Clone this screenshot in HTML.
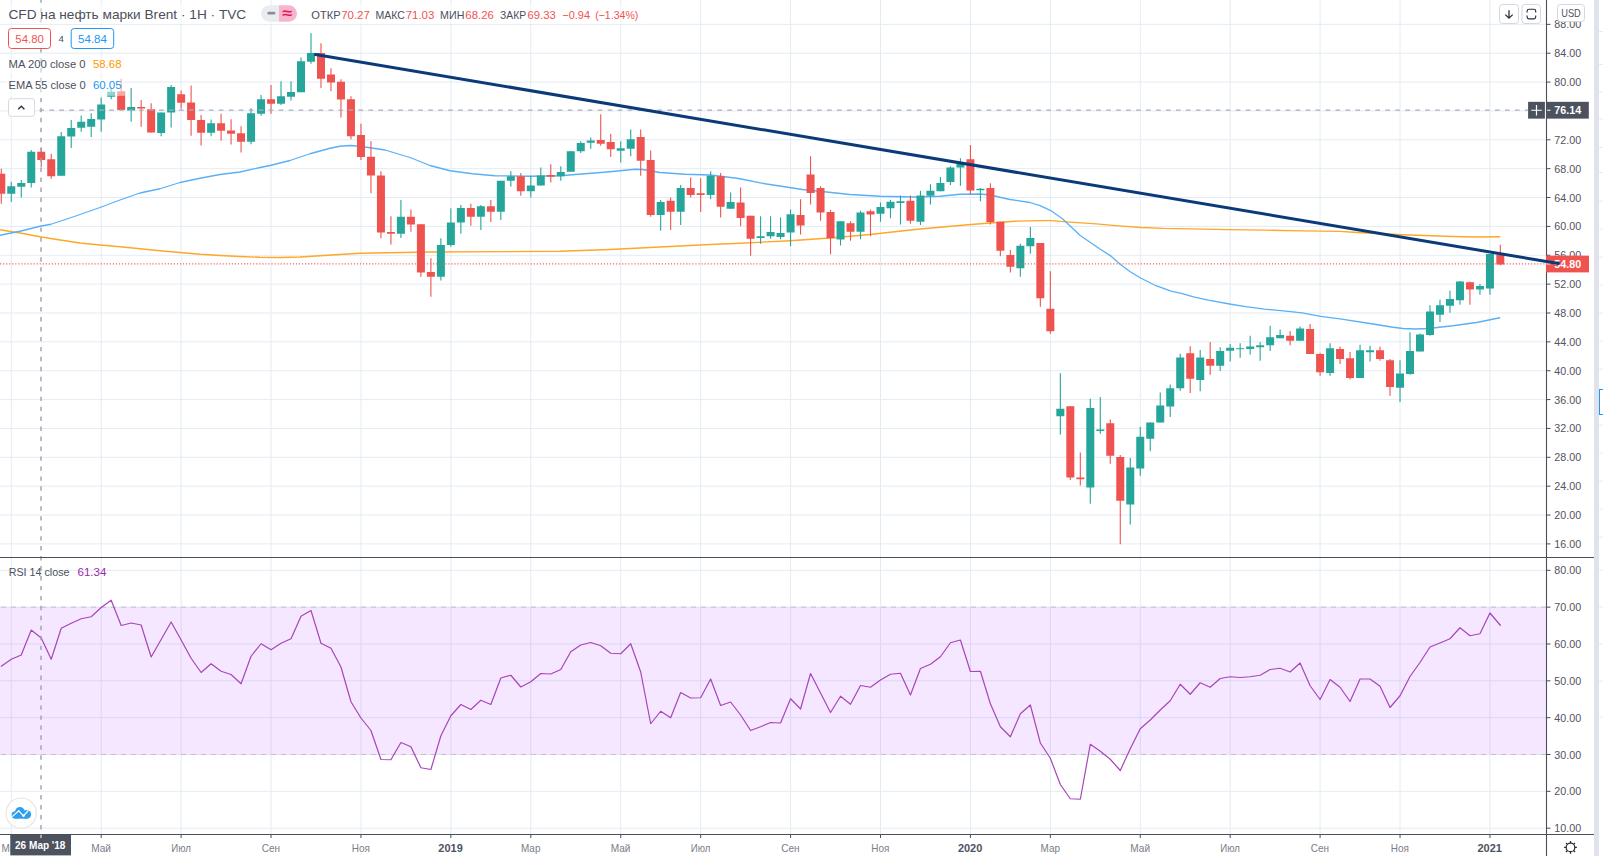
<!DOCTYPE html>
<html lang="ru"><head><meta charset="utf-8"><title>CFD на нефть марки Brent</title>
<style>html,body{margin:0;padding:0;background:#fff}svg{display:block}</style></head>
<body>
<svg width="1603" height="856" viewBox="0 0 1603 856" font-family='"Liberation Sans", "DejaVu Sans", sans-serif'>
<rect width="1603" height="856" fill="#fff"/>
<path d="M11.27 0V834.5M101.19 0V834.5M181.12 0V834.5M271.04 0V834.5M360.96 0V834.5M450.87 0V834.5M530.80 0V834.5M620.72 0V834.5M700.65 0V834.5M790.57 0V834.5M880.49 0V834.5M970.41 0V834.5M1050.34 0V834.5M1140.25 0V834.5M1230.17 0V834.5M1320.09 0V834.5M1400.02 0V834.5M1489.94 0V834.5M0 543.90H1546.5M0 515.04H1546.5M0 486.17H1546.5M0 457.31H1546.5M0 428.45H1546.5M0 399.58H1546.5M0 370.72H1546.5M0 341.85H1546.5M0 312.99H1546.5M0 284.13H1546.5M0 255.26H1546.5M0 226.40H1546.5M0 197.53H1546.5M0 168.67H1546.5M0 139.81H1546.5M0 110.94H1546.5M0 82.08H1546.5M0 53.21H1546.5M0 24.35H1546.5M0 828.18H1546.5M0 791.34H1546.5M0 754.50H1546.5M0 717.66H1546.5M0 680.82H1546.5M0 643.98H1546.5M0 607.14H1546.5M0 570.30H1546.5" stroke="#e4ecf3" stroke-width="1" fill="none"/>
<rect x="0" y="607.14" width="1546.5" height="147.36" fill="#9915ff" fill-opacity="0.1"/>
<path d="M0 607.14H1546.5M0 754.50H1546.5" stroke="#c2bece" stroke-width="1" stroke-dasharray="5 5" stroke-dashoffset="-1" fill="none"/>
<path d="M0.00 229.80L1.25 230.00L20.00 233.00L40.00 236.75L60.00 240.00L80.00 243.00L100.00 245.00L120.00 246.75L140.00 248.75L160.00 250.75L180.00 252.50L200.00 254.25L220.00 255.50L240.00 256.50L260.00 257.25L280.00 257.50L300.00 257.00L320.00 255.75L340.00 254.50L360.00 253.25L430.00 252.00L560.00 251.25L610.00 249.50L660.00 247.00L710.00 244.50L740.00 243.25L790.00 240.75L830.00 238.00L870.00 234.50L915.00 229.50L965.00 225.00L990.00 223.00L1015.00 221.25L1040.00 220.59L1051.23 220.59L1066.20 221.90L1096.15 223.96L1118.61 225.83L1141.07 227.51L1163.53 228.45L1189.73 228.82L1227.16 229.57L1264.59 230.13L1302.03 230.88L1340.02 231.44L1353.00 232.25L1403.00 234.75L1453.00 236.50L1478.00 237.00L1499.75 236.75" stroke="#ffa726" stroke-width="1.3" fill="none" stroke-linejoin="round" stroke-linecap="round"/>
<path d="M0.00 235.30L1.25 235.00L20.00 231.25L40.00 226.25L51.00 224.25L75.00 216.25L100.00 207.50L120.00 200.00L140.00 193.00L160.00 188.75L180.00 182.50L200.00 178.25L220.00 174.50L240.00 172.00L260.00 167.50L270.00 165.50L290.00 160.50L310.00 153.75L330.00 148.25L340.00 146.25L350.00 145.50L360.00 146.25L385.00 150.00L410.00 157.50L430.00 165.50L450.00 170.75L472.50 173.75L495.00 175.75L530.00 176.25L560.00 175.75L585.00 173.75L610.00 171.75L635.00 169.25L642.50 169.50L660.00 172.50L685.00 174.25L710.00 175.00L735.00 178.00L740.00 178.75L765.00 183.75L802.50 189.50L815.00 190.75L850.00 194.50L880.00 196.25L915.00 197.00L940.00 196.25L960.00 194.25L980.00 194.00L990.00 195.00L1010.00 199.50L1030.00 202.50L1040.00 205.61L1050.29 210.29L1062.46 218.72L1080.24 235.56L1099.89 249.04L1111.12 256.15L1120.48 264.57L1129.84 271.50L1141.07 278.23L1156.04 285.72L1171.01 291.15L1182.24 293.58L1193.47 296.76L1208.44 300.13L1230.90 304.25L1245.88 306.68L1264.59 309.11L1283.31 310.80L1302.03 312.86L1320.74 316.41L1340.02 318.85L1373.00 324.00L1393.00 327.25L1403.00 328.50L1415.50 329.00L1428.00 328.50L1453.00 325.75L1478.00 322.25L1499.75 317.75" stroke="#5ab0f7" stroke-width="1.3" fill="none" stroke-linejoin="round" stroke-linecap="round"/>
<path d="M11.27 181.75V202.00M21.26 180.00V197.50M31.25 150.00V187.50M61.23 132.00V175.75M71.22 120.00V148.00M81.21 115.50V131.75M91.20 113.25V137.00M101.19 97.50V131.75M111.18 87.50V99.25M131.16 88.00V121.75M161.14 112.50V136.25M171.13 85.00V127.50M211.09 119.50V136.25M251.05 108.25V144.25M261.05 95.00V115.75M281.03 81.25V105.00M291.02 81.25V100.50M301.01 57.50V92.25M311.00 33.25V63.75M400.92 200.00V238.00M440.88 238.25V280.50M450.87 208.25V246.75M460.87 205.00V233.75M480.85 205.00V230.00M500.83 180.75V220.00M510.82 171.25V186.75M530.80 175.75V197.50M540.79 167.50V185.50M560.78 166.25V180.75M570.77 151.25V171.75M580.76 141.25V153.00M590.75 137.50V148.75M620.72 141.25V162.50M630.71 129.50V156.25M660.69 200.00V230.75M680.67 185.00V225.00M710.64 171.25V199.25M730.62 192.50V208.75M760.60 216.25V243.75M770.59 216.25V238.75M780.58 217.50V239.25M790.57 209.50V246.25M840.52 221.25V245.50M860.51 210.75V239.25M880.49 202.50V221.75M890.48 200.00V218.25M900.47 195.50V224.50M920.45 190.75V225.00M930.44 184.25V204.50M940.43 177.00V191.25M950.42 166.25V185.00M960.42 158.25V185.75M980.40 188.00V201.25M1020.36 243.75V276.75M1030.35 227.00V253.75M1060.33 373.25V434.50M1090.30 398.75V503.75M1100.29 397.00V433.75M1130.26 458.00V524.50M1140.25 426.75V475.75M1150.24 422.50V451.25M1160.24 392.50V422.50M1170.23 384.50V417.00M1180.22 353.75V390.75M1200.20 350.00V391.25M1220.18 347.25V371.00M1230.17 344.00V361.50M1240.16 343.25V357.75M1250.15 335.75V354.50M1260.15 342.00V360.75M1270.14 325.75V351.00M1280.13 329.50V338.25M1300.11 326.50V340.75M1330.08 343.25V375.75M1360.06 344.75V378.00M1370.05 345.75V361.50M1400.02 360.25V402.00M1410.01 332.25V374.75M1420.00 333.50V351.50M1429.99 305.25V335.75M1439.98 299.75V322.00M1449.97 290.75V312.75M1459.97 281.00V304.75M1479.95 284.00V294.75M1489.94 254.00V294.75" stroke="#26a69a" stroke-width="1.1" fill="none"/>
<path d="M1.28 168.75V203.75M41.24 147.50V167.00M51.23 153.75V178.75M121.17 78.75V110.00M141.15 100.00V126.75M151.15 103.25V132.50M181.12 90.50V108.75M191.11 85.50V135.75M201.10 115.00V145.50M221.08 113.75V140.75M231.07 119.25V144.50M241.06 126.25V152.50M271.04 85.00V113.75M320.99 43.25V88.00M330.98 68.25V91.25M340.97 79.25V117.50M350.96 96.25V139.25M360.96 123.75V160.00M370.95 141.25V193.25M380.94 171.25V238.25M390.93 216.25V244.50M410.91 209.50V231.75M420.90 224.25V276.75M430.89 258.25V296.75M470.86 203.75V225.75M490.84 200.00V222.00M520.81 173.00V195.75M550.78 164.25V182.50M600.74 114.25V145.75M610.73 133.75V157.00M640.70 129.50V175.75M650.69 150.50V216.75M670.68 197.50V230.00M690.66 177.50V197.50M700.65 178.25V212.00M720.63 173.00V217.50M740.61 187.50V226.25M750.60 215.75V255.75M800.56 199.25V234.50M810.55 156.25V204.50M820.54 186.25V220.75M830.53 210.00V254.25M850.51 221.25V240.75M870.50 209.50V236.25M910.46 195.50V223.75M970.41 145.00V194.25M990.39 183.25V224.50M1000.38 221.75V256.25M1010.37 250.00V272.50M1040.34 243.00V306.75M1050.34 271.25V333.75M1070.32 406.25V480.00M1080.31 452.50V485.50M1110.28 419.50V463.75M1120.27 455.00V544.25M1190.21 346.25V393.00M1210.19 342.00V374.75M1290.12 331.00V345.25M1310.10 324.00V354.00M1320.09 352.75V375.75M1340.07 346.50V364.00M1350.06 352.00V379.50M1380.04 346.50V360.75M1390.03 359.00V395.75M1469.96 281.50V304.75M1500.30 244.75V265.25" stroke="#ef5350" stroke-width="1.1" fill="none"/>
<path d="M7.27 186.25h8V193.75h-8zM17.26 183.00h8V186.75h-8zM27.25 151.75h8V183.00h-8zM57.23 136.25h8V175.75h-8zM67.22 128.00h8V136.50h-8zM77.21 121.75h8V127.75h-8zM87.20 119.00h8V126.75h-8zM97.19 104.50h8V119.50h-8zM107.18 91.75h8V96.75h-8zM127.16 107.00h8V110.50h-8zM157.14 112.50h8V133.00h-8zM167.13 87.00h8V112.50h-8zM207.09 123.25h8V132.75h-8zM247.05 113.25h8V141.75h-8zM257.05 99.25h8V113.75h-8zM277.03 96.25h8V103.75h-8zM287.02 92.00h8V96.75h-8zM297.01 61.25h8V92.25h-8zM307.00 53.00h8V61.75h-8zM396.92 216.75h8V233.75h-8zM436.88 245.00h8V276.75h-8zM446.87 222.50h8V245.00h-8zM456.87 208.00h8V222.50h-8zM476.85 206.25h8V216.75h-8zM496.83 180.75h8V211.75h-8zM506.82 176.25h8V180.75h-8zM526.80 185.50h8V191.25h-8zM536.79 175.50h8V185.50h-8zM556.78 172.00h8V176.25h-8zM566.77 151.25h8V171.75h-8zM576.76 143.00h8V151.25h-8zM586.75 140.50h8V142.75h-8zM616.72 148.25h8V150.75h-8zM626.71 139.25h8V148.75h-8zM656.69 202.00h8V215.00h-8zM676.67 188.00h8V211.75h-8zM706.64 175.75h8V195.00h-8zM726.62 202.00h8V208.75h-8zM756.60 236.25h8V238.00h-8zM766.59 232.00h8V236.25h-8zM776.58 233.00h8V237.00h-8zM786.57 214.25h8V232.50h-8zM836.52 221.25h8V239.50h-8zM856.51 212.50h8V231.75h-8zM876.49 207.00h8V213.75h-8zM886.48 201.75h8V208.25h-8zM896.47 201.25h8V203.00h-8zM916.45 195.50h8V221.75h-8zM926.44 190.75h8V195.75h-8zM936.43 183.00h8V191.25h-8zM946.42 167.50h8V182.00h-8zM956.42 163.75h8V167.50h-8zM976.40 188.75h8V190.25h-8zM1016.36 245.75h8V268.25h-8zM1026.35 238.00h8V246.25h-8zM1056.33 408.75h8V416.25h-8zM1086.30 408.00h8V487.50h-8zM1096.29 429.50h8V431.00h-8zM1126.26 467.50h8V504.50h-8zM1136.25 436.75h8V468.50h-8zM1146.24 422.50h8V438.75h-8zM1156.24 405.50h8V422.50h-8zM1166.23 388.25h8V406.50h-8zM1176.22 357.50h8V388.25h-8zM1196.20 357.50h8V380.00h-8zM1216.18 351.00h8V365.75h-8zM1226.17 347.75h8V350.75h-8zM1236.16 348.15h8V349.35h-8zM1246.15 346.50h8V349.00h-8zM1256.15 345.25h8V347.25h-8zM1266.14 337.25h8V345.25h-8zM1276.13 335.00h8V338.25h-8zM1296.11 328.50h8V340.75h-8zM1326.08 348.25h8V373.00h-8zM1356.06 350.25h8V378.00h-8zM1366.05 350.25h8V352.25h-8zM1396.02 373.50h8V387.75h-8zM1406.01 351.00h8V374.00h-8zM1416.00 334.50h8V351.50h-8zM1425.99 311.50h8V335.00h-8zM1435.98 305.25h8V314.75h-8zM1445.97 299.00h8V305.75h-8zM1455.97 281.50h8V300.25h-8zM1475.95 286.00h8V289.50h-8zM1485.94 254.00h8V288.50h-8z" fill="#26a69a"/>
<path d="M-2.72 173.75h8V193.75h-8zM37.24 151.75h8V160.00h-8zM47.23 159.25h8V176.25h-8zM117.17 91.25h8V110.00h-8zM137.15 107.00h8V108.50h-8zM147.15 109.25h8V132.50h-8zM177.12 94.25h8V102.75h-8zM187.11 102.50h8V120.00h-8zM197.10 120.00h8V132.75h-8zM217.08 123.25h8V130.75h-8zM227.07 130.50h8V133.75h-8zM237.06 133.25h8V141.75h-8zM267.04 99.25h8V103.75h-8zM316.99 53.00h8V78.75h-8zM326.98 74.50h8V82.50h-8zM336.97 81.75h8V99.50h-8zM346.96 99.25h8V136.25h-8zM356.96 135.00h8V157.00h-8zM366.95 156.75h8V175.50h-8zM376.94 175.50h8V232.50h-8zM386.93 232.00h8V233.75h-8zM406.91 216.75h8V224.50h-8zM416.90 224.25h8V272.50h-8zM426.89 272.00h8V276.75h-8zM466.86 208.00h8V216.75h-8zM486.84 206.25h8V211.75h-8zM516.81 176.25h8V191.25h-8zM546.78 175.00h8V176.75h-8zM596.74 140.00h8V143.75h-8zM606.73 142.00h8V149.25h-8zM636.70 137.00h8V160.75h-8zM646.69 160.00h8V215.00h-8zM666.68 200.75h8V211.75h-8zM686.66 188.00h8V195.00h-8zM696.65 193.25h8V195.00h-8zM716.63 176.25h8V206.75h-8zM736.61 202.50h8V218.00h-8zM746.60 215.75h8V238.75h-8zM796.56 215.00h8V225.50h-8zM806.55 174.50h8V193.00h-8zM816.54 188.00h8V212.50h-8zM826.53 212.00h8V238.25h-8zM846.51 223.25h8V231.75h-8zM866.50 211.25h8V214.50h-8zM906.46 200.75h8V220.75h-8zM966.41 159.25h8V190.50h-8zM986.39 188.00h8V222.00h-8zM996.38 221.75h8V250.75h-8zM1006.37 255.00h8V266.75h-8zM1036.34 243.00h8V298.25h-8zM1046.34 308.75h8V331.25h-8zM1066.32 406.25h8V477.50h-8zM1076.31 477.50h8V479.25h-8zM1106.28 423.25h8V455.75h-8zM1116.27 457.00h8V500.75h-8zM1186.21 353.25h8V378.75h-8zM1206.19 359.00h8V365.75h-8zM1286.12 335.75h8V340.75h-8zM1306.10 329.00h8V354.00h-8zM1316.09 354.00h8V372.25h-8zM1336.07 349.00h8V359.00h-8zM1346.06 358.25h8V378.00h-8zM1376.04 350.25h8V359.00h-8zM1386.03 360.25h8V387.00h-8zM1465.96 282.25h8V289.50h-8zM1496.30 254.75h8V264.50h-8z" fill="#ef5350"/>
<path d="M0 263.92H1546.5" stroke="#ef5350" stroke-opacity="0.9" stroke-width="1.1" stroke-dasharray="1.15 1.9" fill="none"/>
<path d="M1.28 666.25L11.27 659.25L21.26 655.00L31.25 630.00L41.24 638.00L51.23 659.25L61.23 628.25L71.22 623.25L81.21 618.75L91.20 616.75L101.19 607.50L111.18 600.25L121.17 625.50L131.16 623.00L141.15 625.00L151.15 657.00L161.14 639.50L171.13 622.00L181.12 640.00L191.11 658.25L201.10 672.50L211.09 663.75L221.08 671.25L231.07 674.50L241.06 683.75L251.05 656.25L261.05 643.75L271.04 649.75L281.03 643.25L291.02 638.75L301.01 616.25L311.00 610.50L320.99 643.25L330.98 648.25L340.97 667.00L350.96 701.75L360.96 718.00L370.95 730.50L380.94 759.50L390.93 759.75L400.92 742.50L410.91 746.75L420.90 767.75L430.89 769.50L440.88 735.75L450.87 715.75L460.87 704.50L470.86 709.50L480.85 700.25L490.84 704.50L500.83 678.00L510.82 675.25L520.81 687.00L530.80 681.75L540.79 673.50L550.78 674.00L560.78 669.50L570.77 651.75L580.76 645.00L590.75 642.50L600.74 645.75L610.73 653.25L620.72 653.75L630.71 643.75L640.70 672.00L650.69 723.75L660.69 711.25L670.68 717.75L680.67 692.50L690.66 698.00L700.65 697.75L710.64 679.00L720.63 705.50L730.62 702.00L740.61 715.00L750.60 730.50L760.60 726.75L770.59 722.50L780.58 723.00L790.57 698.75L800.56 709.00L810.55 673.50L820.54 693.00L830.53 712.50L840.52 696.25L850.51 704.25L860.51 685.50L870.50 687.25L880.49 680.00L890.48 674.25L900.47 673.25L910.46 695.00L920.45 668.50L930.44 664.25L940.43 656.75L950.42 642.75L960.42 640.00L970.41 671.50L980.40 671.25L990.39 703.75L1000.38 726.75L1010.37 736.75L1020.36 713.75L1030.35 705.00L1040.34 743.00L1050.34 758.25L1060.33 784.50L1070.32 798.75L1080.31 799.25L1090.30 744.25L1100.29 751.25L1110.28 759.25L1120.27 770.50L1130.26 748.75L1140.25 728.75L1150.24 720.00L1160.24 710.00L1170.23 700.75L1180.22 684.25L1190.21 694.25L1200.20 682.75L1210.19 687.25L1220.18 678.50L1230.17 676.75L1240.16 677.50L1250.15 676.75L1260.15 675.25L1270.14 669.50L1280.13 668.25L1290.12 672.00L1300.11 663.00L1310.10 685.75L1320.09 699.50L1330.08 679.50L1340.07 687.25L1350.06 701.50L1360.06 679.00L1370.05 679.00L1380.04 686.25L1390.03 707.50L1400.02 695.75L1410.01 676.50L1420.00 662.50L1429.99 647.00L1439.98 643.00L1449.97 638.75L1459.97 627.75L1469.96 635.75L1479.95 633.75L1489.94 613.00L1500.30 625.25" stroke="#a845b8" stroke-width="1.2" fill="none" stroke-linejoin="round" stroke-linecap="round"/>
<path d="M41 -1.7V834.5" stroke="#9aa0ad" stroke-width="1.4" stroke-dasharray="4.4 5.56" fill="none"/>
<path d="M9.5 110.13H1528" stroke="#a7adb9" stroke-width="1.1" stroke-dasharray="4.6 5.37" fill="none"/>
<rect x="6" y="78.5" width="119" height="17.3" fill="#fff" fill-opacity="0.5"/>
<rect x="6" y="57.5" width="119" height="17.3" fill="#fff" fill-opacity="0.5"/>
<rect x="6" y="5" width="636" height="19" fill="#fff" fill-opacity="0.5"/>
<text x="8.50" y="18.90" font-size="13" fill="#4b4f5c" textLength="237.70" lengthAdjust="spacingAndGlyphs">CFD на нефть марки Brent · 1Н · TVC</text>
<path d="M269.3 5.2h9.7v16.6h-9.7a8.3 8.3 0 0 1 0-16.6z" fill="#ebecef"/>
<path d="M279 5.2h9.7a8.3 8.3 0 0 1 0 16.6h-9.7z" fill="#f8b4cd"/>
<path d="M268.8 13.2h5.2" stroke="#8a8e99" stroke-width="2.8" stroke-linecap="round"/>
<text x="282.60" y="18.40" font-size="14.5" fill="#d81b60" font-weight="bold" textLength="10.00" lengthAdjust="spacingAndGlyphs">≈</text>
<text x="311.30" y="18.80" font-size="11.5" fill="#4b4f5c" textLength="29.30" lengthAdjust="spacingAndGlyphs">ОТКР</text>
<text x="341.20" y="18.80" font-size="11.5" fill="#ef5350" textLength="28.60" lengthAdjust="spacingAndGlyphs">70.27</text>
<text x="375.40" y="18.80" font-size="11.5" fill="#4b4f5c" textLength="29.40" lengthAdjust="spacingAndGlyphs">МАКС</text>
<text x="405.70" y="18.80" font-size="11.5" fill="#ef5350" textLength="28.60" lengthAdjust="spacingAndGlyphs">71.03</text>
<text x="440.10" y="18.80" font-size="11.5" fill="#4b4f5c" textLength="24.30" lengthAdjust="spacingAndGlyphs">МИН</text>
<text x="465.30" y="18.80" font-size="11.5" fill="#ef5350" textLength="28.50" lengthAdjust="spacingAndGlyphs">68.26</text>
<text x="500.10" y="18.80" font-size="11.5" fill="#4b4f5c" textLength="26.10" lengthAdjust="spacingAndGlyphs">ЗАКР</text>
<text x="527.50" y="18.80" font-size="11.5" fill="#ef5350" textLength="28.30" lengthAdjust="spacingAndGlyphs">69.33</text>
<text x="562.40" y="18.80" font-size="11.5" fill="#ef5350" textLength="27.60" lengthAdjust="spacingAndGlyphs">−0.94</text>
<text x="595.20" y="18.80" font-size="11.5" fill="#ef5350" textLength="43.10" lengthAdjust="spacingAndGlyphs">(−1.34%)</text>
<rect x="8.5" y="28.5" width="42" height="20" rx="3" fill="#fff" stroke="#ef5350" stroke-width="1"/>
<text x="15.30" y="42.60" font-size="11.5" fill="#ef5350" textLength="28.50" lengthAdjust="spacingAndGlyphs">54.80</text>
<text x="58.40" y="42.00" font-size="9.5" fill="#4b4f5c" textLength="5.40" lengthAdjust="spacingAndGlyphs">4</text>
<rect x="71.2" y="28.5" width="42.5" height="20" rx="3" fill="#fff" stroke="#2196f3" stroke-width="1"/>
<text x="78.10" y="42.60" font-size="11.5" fill="#2196f3" textLength="28.80" lengthAdjust="spacingAndGlyphs">54.84</text>
<text x="8.60" y="67.60" font-size="11.5" fill="#4b4f5c" textLength="77.00" lengthAdjust="spacingAndGlyphs">MA 200 close 0</text>
<text x="93.00" y="67.60" font-size="11.5" fill="#ff9800" textLength="28.50" lengthAdjust="spacingAndGlyphs">58.68</text>
<text x="8.60" y="88.80" font-size="11.5" fill="#4b4f5c" textLength="77.00" lengthAdjust="spacingAndGlyphs">EMA 55 close 0</text>
<text x="93.00" y="88.80" font-size="11.5" fill="#2196f3" textLength="28.50" lengthAdjust="spacingAndGlyphs">60.05</text>
<rect x="8.5" y="98.7" width="26" height="17.6" rx="2.5" fill="#fff" stroke="#d6d9e0" stroke-width="1"/>
<path d="M18.2 109.3l3.1-3.1l3.1 3.1" stroke="#2a2e39" stroke-width="1.3" fill="none"/>
<text x="8.70" y="575.80" font-size="11.5" fill="#4b4f5c" textLength="60.80" lengthAdjust="spacingAndGlyphs">RSI 14 close</text>
<text x="77.50" y="575.80" font-size="11.5" fill="#9c27b0" textLength="28.80" lengthAdjust="spacingAndGlyphs">61.34</text>
<rect x="1546.5" y="0" width="47.5" height="856" fill="#fff"/>
<rect x="0" y="834.5" width="1594" height="21.5" fill="#fff"/>
<text x="1554.30" y="547.90" font-size="11" fill="#50535e" textLength="26.80" lengthAdjust="spacingAndGlyphs">16.00</text>
<text x="1554.30" y="519.04" font-size="11" fill="#50535e" textLength="26.80" lengthAdjust="spacingAndGlyphs">20.00</text>
<text x="1554.30" y="490.17" font-size="11" fill="#50535e" textLength="26.80" lengthAdjust="spacingAndGlyphs">24.00</text>
<text x="1554.30" y="461.31" font-size="11" fill="#50535e" textLength="26.80" lengthAdjust="spacingAndGlyphs">28.00</text>
<text x="1554.30" y="432.45" font-size="11" fill="#50535e" textLength="26.80" lengthAdjust="spacingAndGlyphs">32.00</text>
<text x="1554.30" y="403.58" font-size="11" fill="#50535e" textLength="26.80" lengthAdjust="spacingAndGlyphs">36.00</text>
<text x="1554.30" y="374.72" font-size="11" fill="#50535e" textLength="26.80" lengthAdjust="spacingAndGlyphs">40.00</text>
<text x="1554.30" y="345.85" font-size="11" fill="#50535e" textLength="26.80" lengthAdjust="spacingAndGlyphs">44.00</text>
<text x="1554.30" y="316.99" font-size="11" fill="#50535e" textLength="26.80" lengthAdjust="spacingAndGlyphs">48.00</text>
<text x="1554.30" y="288.13" font-size="11" fill="#50535e" textLength="26.80" lengthAdjust="spacingAndGlyphs">52.00</text>
<text x="1554.30" y="259.26" font-size="11" fill="#50535e" textLength="26.80" lengthAdjust="spacingAndGlyphs">56.00</text>
<text x="1554.30" y="230.40" font-size="11" fill="#50535e" textLength="26.80" lengthAdjust="spacingAndGlyphs">60.00</text>
<text x="1554.30" y="201.53" font-size="11" fill="#50535e" textLength="26.80" lengthAdjust="spacingAndGlyphs">64.00</text>
<text x="1554.30" y="172.67" font-size="11" fill="#50535e" textLength="26.80" lengthAdjust="spacingAndGlyphs">68.00</text>
<text x="1554.30" y="143.81" font-size="11" fill="#50535e" textLength="26.80" lengthAdjust="spacingAndGlyphs">72.00</text>
<text x="1554.30" y="114.94" font-size="11" fill="#50535e" textLength="26.80" lengthAdjust="spacingAndGlyphs">76.00</text>
<text x="1554.30" y="86.08" font-size="11" fill="#50535e" textLength="26.80" lengthAdjust="spacingAndGlyphs">80.00</text>
<text x="1554.30" y="57.21" font-size="11" fill="#50535e" textLength="26.80" lengthAdjust="spacingAndGlyphs">84.00</text>
<text x="1554.30" y="28.35" font-size="11" fill="#50535e" textLength="26.80" lengthAdjust="spacingAndGlyphs">88.00</text>
<text x="1554.30" y="832.18" font-size="11" fill="#50535e" textLength="26.80" lengthAdjust="spacingAndGlyphs">10.00</text>
<text x="1554.30" y="795.34" font-size="11" fill="#50535e" textLength="26.80" lengthAdjust="spacingAndGlyphs">20.00</text>
<text x="1554.30" y="758.50" font-size="11" fill="#50535e" textLength="26.80" lengthAdjust="spacingAndGlyphs">30.00</text>
<text x="1554.30" y="721.66" font-size="11" fill="#50535e" textLength="26.80" lengthAdjust="spacingAndGlyphs">40.00</text>
<text x="1554.30" y="684.82" font-size="11" fill="#50535e" textLength="26.80" lengthAdjust="spacingAndGlyphs">50.00</text>
<text x="1554.30" y="647.98" font-size="11" fill="#50535e" textLength="26.80" lengthAdjust="spacingAndGlyphs">60.00</text>
<text x="1554.30" y="611.14" font-size="11" fill="#50535e" textLength="26.80" lengthAdjust="spacingAndGlyphs">70.00</text>
<text x="1554.30" y="574.30" font-size="11" fill="#50535e" textLength="26.80" lengthAdjust="spacingAndGlyphs">80.00</text>
<path d="M1546.5 543.90h4M1546.5 515.04h4M1546.5 486.17h4M1546.5 457.31h4M1546.5 428.45h4M1546.5 399.58h4M1546.5 370.72h4M1546.5 341.85h4M1546.5 312.99h4M1546.5 284.13h4M1546.5 255.26h4M1546.5 226.40h4M1546.5 197.53h4M1546.5 168.67h4M1546.5 139.81h4M1546.5 110.94h4M1546.5 82.08h4M1546.5 53.21h4M1546.5 24.35h4M1546.5 828.18h4M1546.5 791.34h4M1546.5 754.50h4M1546.5 717.66h4M1546.5 680.82h4M1546.5 643.98h4M1546.5 607.14h4M1546.5 570.30h4" stroke="#4a4e5a" stroke-width="1"/>
<text x="11.17" y="851.90" font-size="11" fill="#7a7d88" text-anchor="middle" textLength="19.40" lengthAdjust="spacingAndGlyphs">Мар</text>
<text x="101.09" y="851.90" font-size="11" fill="#7a7d88" text-anchor="middle" textLength="19.80" lengthAdjust="spacingAndGlyphs">Май</text>
<text x="181.02" y="851.90" font-size="11" fill="#7a7d88" text-anchor="middle" textLength="19.70" lengthAdjust="spacingAndGlyphs">Июл</text>
<text x="270.94" y="851.90" font-size="11" fill="#7a7d88" text-anchor="middle" textLength="18.30" lengthAdjust="spacingAndGlyphs">Сен</text>
<text x="360.86" y="851.90" font-size="11" fill="#7a7d88" text-anchor="middle" textLength="18.10" lengthAdjust="spacingAndGlyphs">Ноя</text>
<text x="450.57" y="851.90" font-size="11" fill="#4e525e" font-weight="bold" text-anchor="middle" textLength="24.40" lengthAdjust="spacingAndGlyphs">2019</text>
<text x="530.70" y="851.90" font-size="11" fill="#7a7d88" text-anchor="middle" textLength="19.40" lengthAdjust="spacingAndGlyphs">Мар</text>
<text x="620.62" y="851.90" font-size="11" fill="#7a7d88" text-anchor="middle" textLength="19.80" lengthAdjust="spacingAndGlyphs">Май</text>
<text x="700.55" y="851.90" font-size="11" fill="#7a7d88" text-anchor="middle" textLength="19.70" lengthAdjust="spacingAndGlyphs">Июл</text>
<text x="790.47" y="851.90" font-size="11" fill="#7a7d88" text-anchor="middle" textLength="18.30" lengthAdjust="spacingAndGlyphs">Сен</text>
<text x="880.39" y="851.90" font-size="11" fill="#7a7d88" text-anchor="middle" textLength="18.10" lengthAdjust="spacingAndGlyphs">Ноя</text>
<text x="970.11" y="851.90" font-size="11" fill="#4e525e" font-weight="bold" text-anchor="middle" textLength="24.40" lengthAdjust="spacingAndGlyphs">2020</text>
<text x="1050.24" y="851.90" font-size="11" fill="#7a7d88" text-anchor="middle" textLength="19.40" lengthAdjust="spacingAndGlyphs">Мар</text>
<text x="1140.15" y="851.90" font-size="11" fill="#7a7d88" text-anchor="middle" textLength="19.80" lengthAdjust="spacingAndGlyphs">Май</text>
<text x="1230.07" y="851.90" font-size="11" fill="#7a7d88" text-anchor="middle" textLength="19.70" lengthAdjust="spacingAndGlyphs">Июл</text>
<text x="1319.99" y="851.90" font-size="11" fill="#7a7d88" text-anchor="middle" textLength="18.30" lengthAdjust="spacingAndGlyphs">Сен</text>
<text x="1399.92" y="851.90" font-size="11" fill="#7a7d88" text-anchor="middle" textLength="18.10" lengthAdjust="spacingAndGlyphs">Ноя</text>
<text x="1489.64" y="851.90" font-size="11" fill="#4e525e" font-weight="bold" text-anchor="middle" textLength="24.40" lengthAdjust="spacingAndGlyphs">2021</text>
<path d="M11.27 834.5v3.5M101.19 834.5v3.5M181.12 834.5v3.5M271.04 834.5v3.5M360.96 834.5v3.5M450.87 834.5v3.5M530.80 834.5v3.5M620.72 834.5v3.5M700.65 834.5v3.5M790.57 834.5v3.5M880.49 834.5v3.5M970.41 834.5v3.5M1050.34 834.5v3.5M1140.25 834.5v3.5M1230.17 834.5v3.5M1320.09 834.5v3.5M1400.02 834.5v3.5M1489.94 834.5v3.5" stroke="#4a4e5a" stroke-width="1"/>
<path d="M1546.5 0V856M0 834.5H1594M0 557.5H1594" stroke="#4a4e5a" stroke-width="1.1" fill="none"/>
<rect x="1546.0" y="255.6" width="43" height="16.8" fill="#ef5350"/>
<path d="M1546.5 263.92h4" stroke="#fff" stroke-width="1"/>
<text x="1554.30" y="268.02" font-size="11" fill="#fff" font-weight="bold" textLength="26.80" lengthAdjust="spacingAndGlyphs">54.80</text>
<rect x="1528.1" y="101.83" width="16.8" height="16.8" fill="#4c525e"/>
<path d="M1531.2 110.23h10.6M1536.5 104.93v10.6" stroke="#fff" stroke-width="1.2"/>
<rect x="1547.0" y="101.83" width="41.8" height="16.8" fill="#4c525e"/>
<path d="M1547.0 110.23h3.5" stroke="#fff" stroke-width="1"/>
<text x="1554.30" y="114.33" font-size="11" fill="#fff" font-weight="bold" textLength="26.80" lengthAdjust="spacingAndGlyphs">76.14</text>
<rect x="10.3" y="834.8" width="60.7" height="20.2" fill="#4c525e"/>
<rect x="10.3" y="855" width="60.7" height="1" fill="#b8bbc2"/>
<path d="M41 834.8v3.2" stroke="#fff" stroke-width="1"/>
<text x="15.00" y="849.30" font-size="11" fill="#fff" font-weight="bold" textLength="50.40" lengthAdjust="spacingAndGlyphs">26 Мар '18</text>
<rect x="1499.5" y="4.5" width="19" height="19" rx="3" fill="#fff" stroke="#d4d7df"/>
<path d="M1509 10.2v7.6M1505.3 14.6l3.7 3.6l3.7-3.6" stroke="#2a2e39" stroke-width="1.3" fill="none"/>
<rect x="1522" y="4.5" width="18.5" height="19" rx="3" fill="#fff" stroke="#d4d7df"/>
<path d="M1527.1 12.4v-1.4a1.8 1.8 0 0 1 1.8-1.8h5a1.8 1.8 0 0 1 1.8 1.8v1.4M1527.1 15.6v1.4a1.8 1.8 0 0 0 1.8 1.8h5a1.8 1.8 0 0 0 1.8-1.8v-1.4" stroke="#2a2e39" stroke-width="1.15" fill="none"/>
<rect x="1557.5" y="4.5" width="27" height="17" rx="3" fill="#fff" stroke="#d4d7df"/>
<text x="1571.00" y="17.10" font-size="11" fill="#50535e" text-anchor="middle" textLength="19.50" lengthAdjust="spacingAndGlyphs">USD</text>
<circle cx="1570.5" cy="847.4" r="4.3" fill="none" stroke="#2a2e39" stroke-width="1.2"/>
<path d="M1570.50 851.70L1570.50 853.80M1567.46 850.44L1565.97 851.93M1566.20 847.40L1564.10 847.40M1567.46 844.36L1565.97 842.87M1570.50 843.10L1570.50 841.00M1573.54 844.36L1575.03 842.87M1574.80 847.40L1576.90 847.40M1573.54 850.44L1575.03 851.93" stroke="#2a2e39" stroke-width="1.3"/>
<circle cx="21.2" cy="813.2" r="15.2" fill="#fff" stroke="#e6e6e6" stroke-width="1.2"/>
<g fill="#2f9fec"><circle cx="15.3" cy="814.9" r="3.7"/><circle cx="19.9" cy="811.9" r="4.9"/><circle cx="26.7" cy="814.4" r="4.4"/><rect x="15" y="813.5" width="12" height="5.2"/></g>
<path d="M12.2 816.6l6.5-5.7l4.8 5l4.8-5.4" stroke="#fff" stroke-width="1.25" fill="none"/>
<circle cx="18.7" cy="810.9" r="0.9" fill="#fff"/><circle cx="23.5" cy="815.8" r="1.2" fill="#fff"/>
<path d="M315.5 54.5L1558.4 263.5" stroke="#0b3a78" stroke-width="3" stroke-linecap="round" fill="none"/>
<rect x="1594" y="0" width="5" height="856" fill="#e0e3ec"/>
<rect x="1599" y="0" width="4" height="856" fill="#fff"/>
<path d="M1599 31.5H1603M1599 64.5H1603M1599 92H1603M1599 119H1603M1599 147.5H1603M1599 172.5H1603M1599 201H1603M1599 229H1603M1599 257H1603M1599 285H1603M1599 313H1603M1599 341H1603M1599 369H1603M1599 425H1603M1599 453H1603M1599 481H1603M1599 509H1603M1599 537H1603M1599 570H1603M1599 607H1603M1599 644H1603M1599 681H1603M1599 717H1603" stroke="#e6eaf4" stroke-width="1"/>
<rect x="1599.5" y="389.5" width="6" height="25" fill="none" stroke="#2196f3" stroke-width="1"/>
</svg>
</body></html>
